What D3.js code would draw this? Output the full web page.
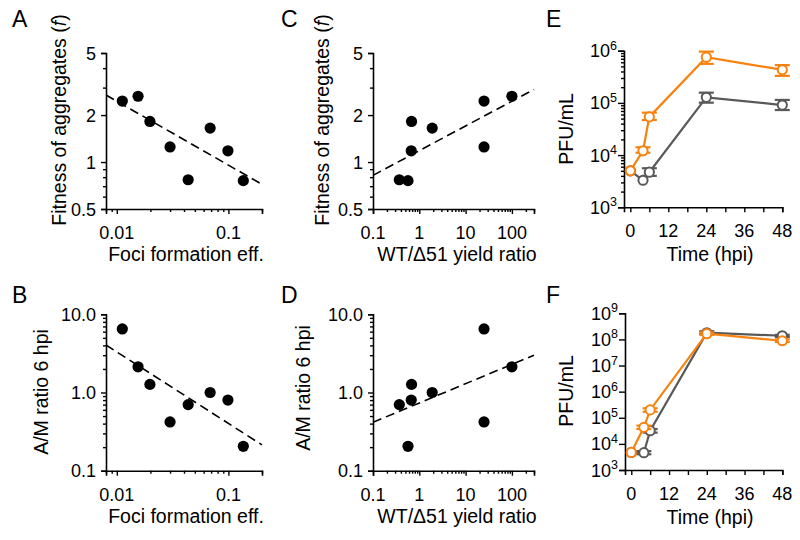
<!DOCTYPE html>
<html><head><meta charset="utf-8">
<script src="https://cdn.jsdelivr.net/npm/d3@7"></script>
<style>
body{margin:0;background:#fff}
svg{display:block}
text{font-family:"Liberation Sans",Arial,Helvetica,sans-serif;fill:#000}
</style>
</head><body>
<svg id="c" width="800" height="540"></svg>
<script>
// ---------- data (per strain, panels A-D) ----------
const fociEff    = [0.0112, 0.0155, 0.0198, 0.030, 0.0436, 0.0686, 0.099, 0.136];
const fitness    = [2.46, 2.64, 1.82, 1.25, 0.77, 1.65, 1.18, 0.76];
const amRatio    = [6.5, 2.13, 1.27, 0.42, 0.70, 1.0, 0.80, 0.205];
const yieldRatio = [25, 100, 0.68, 25, 0.37, 1.9, 0.67, 0.57];

// ---------- data (time courses, panels E-F) ----------
const timeHpi = [0, 4, 6, 24, 48];
const eOrange   = [5.0e3, 1.21e4, 5.4e4, 7.5e5, 4.3e5];
const eOrangeLo = [5.0e3, 1.11e4, 4.7e4, 5.6e5, 3.3e5];
const eOrangeHi = [5.0e3, 1.41e4, 6.5e4, 9.6e5, 5.3e5];
const eGrey     = [5.0e3, 3.3e3, 4.7e3, 1.28e5, 9.1e4];
const eGreyLo   = [5.0e3, 3.3e3, 4.0e3, 1.01e5, 7.3e4];
const eGreyHi   = [5.0e3, 3.3e3, 5.6e3, 1.57e5, 1.14e5];
const fOrange   = [4.7e3, 4.3e4, 2.0e5, 1.66e8, 8.9e7];
const fOrangeLo = [4.7e3, 3.7e4, 1.7e5, 1.5e8, 8.0e7];
const fOrangeHi = [4.7e3, 5.0e4, 2.3e5, 1.85e8, 1.0e8];
const fGrey     = [4.7e3, 4.6e3, 3.2e4, 1.8e8, 1.38e8];
const fGreyLo   = [4.7e3, 4.0e3, 2.7e4, 1.6e8, 1.25e8];
const fGreyHi   = [4.7e3, 5.3e3, 3.7e4, 2.05e8, 1.5e8];

// ---------- tick labels ----------
const fociTicks  = [0.01, 0.1];
const fociLabels = ["0.01", "0.1"];
const yieldTicks = [0.1, 1, 10, 100];
const yieldLabels= ["0.1", "1", "10", "100"];
const fitTicks   = [0.5, 1, 2, 5];
const fitLabels  = ["0.5", "1", "2", "5"];
const amTicks    = [0.1, 1, 10];
const amLabels   = ["0.1", "1.0", "10.0"];
const timeTicks  = [0, 6, 12, 18, 24, 30, 36, 42, 48];
const timeLabels = ["0", "", "12", "", "24", "", "36", "", "48"];
const eExp = [3, 4, 5, 6];
const fExp = [3, 4, 5, 6, 7, 8, 9];

const ORANGE = "#f7820f", GREY = "#595959";
const TICKFS = 18, TITLEFS = 19.5;
const svg = d3.select("#c");

function logTicks(min, max) {
  const out = [];
  for (let e = Math.floor(Math.log10(min)) - 1; e <= Math.ceil(Math.log10(max)); e++) {
    for (let m = 1; m <= 9; m++) {
      const v = +(m * Math.pow(10, e)).toPrecision(6);
      if (v >= min * 0.9999 && v <= max * 1.0001) out.push(v);
    }
  }
  return out;
}
const isIn = (arr, v) => arr.some(a => Math.abs(a - v) / a < 1e-6);

function styleAxis(g) {
  g.selectAll("path.domain").attr("stroke", "#000").attr("stroke-width", 1.6);
  g.selectAll(".tick line").attr("stroke", "#000").attr("stroke-width", 1.4);
  g.selectAll(".tick text").remove();
}

function bottomAxis(x, yPix, ticks, majors, majLen, minLen) {
  const g = svg.append("g").attr("transform", `translate(0,${yPix})`)
    .call(d3.axisBottom(x).tickValues(ticks).tickSizeOuter(0).tickSize(majLen).tickFormat(""));
  g.selectAll(".tick line").attr("y2", d => isIn(majors, d) ? majLen : minLen);
  styleAxis(g);
}
function leftAxis(y, xPix, ticks, majors, majLen, minLen) {
  const g = svg.append("g").attr("transform", `translate(${xPix},0)`)
    .call(d3.axisLeft(y).tickValues(ticks).tickSizeOuter(0).tickSize(majLen).tickFormat(""));
  g.selectAll(".tick line").attr("x2", d => isIn(majors, d) ? -majLen : -minLen);
  styleAxis(g);
}

function letter(t, x, y) {
  svg.append("text").attr("x", x).attr("y", y).attr("font-size", 23).text(t);
}
function yTitle(x, y, build) {
  const t = svg.append("text").attr("transform", `translate(${x},${y}) rotate(-90)`)
    .attr("text-anchor", "middle").attr("font-size", TITLEFS);
  build(t);
}
function xTitle(x, y, s) {
  svg.append("text").attr("x", x).attr("y", y).attr("text-anchor", "middle").attr("font-size", TITLEFS).text(s);
}

// regression in log-log space
function fitLine(xs, ys) {
  const lx = xs.map(Math.log10), ly = ys.map(Math.log10);
  const mx = d3.mean(lx), my = d3.mean(ly);
  const b = d3.sum(lx, (v, i) => (v - mx) * (ly[i] - my)) / d3.sum(lx, v => (v - mx) * (v - mx));
  return v => Math.pow(10, my + b * (Math.log10(v) - mx));
}

function scatterPanel(o) {
  const x = d3.scaleLog().domain(o.xDomain).range([o.left, o.right]);
  const y = d3.scaleLog().domain(o.yDomain).range([o.bottom, o.top]);
  bottomAxis(x, o.bottom, logTicks(o.xDomain[0], o.xDomain[1]), o.xMajor, 5, 3);
  leftAxis(y, o.left, logTicks(o.yDomain[0], o.yDomain[1]), o.yMajor, 5, 3);
  o.xMajor.forEach((v, i) => svg.append("text").attr("x", x(v)).attr("y", o.bottom + 30)
    .attr("text-anchor", "middle").attr("font-size", TICKFS).text(o.xLabels[i]));
  o.yMajor.forEach((v, i) => svg.append("text").attr("x", o.left - 10).attr("y", y(v) + 6.5)
    .attr("text-anchor", "end").attr("font-size", TICKFS).text(o.yLabels[i]));
  const f = fitLine(o.xs, o.ys);
  const clipId = "clip" + o.id;
  svg.append("clipPath").attr("id", clipId).append("rect")
    .attr("x", o.left).attr("y", o.top).attr("width", o.right - o.left + 2).attr("height", o.bottom - o.top);
  svg.append("line").attr("clip-path", `url(#${clipId})`)
    .attr("x1", x(o.xDomain[0])).attr("y1", y(f(o.xDomain[0])))
    .attr("x2", x(o.xDomain[1])).attr("y2", y(f(o.xDomain[1])))
    .attr("stroke", "#000").attr("stroke-width", 1.6).attr("stroke-dasharray", "9,5");
  svg.append("g").selectAll("circle").data(o.xs).join("circle")
    .attr("cx", d => x(d)).attr("cy", (d, i) => y(o.ys[i])).attr("r", 5.6).attr("fill", "#000");
}

// Panel A
scatterPanel({id:"A", left:106, right:262, top:53, bottom:209, xDomain:[0.008,0.2], yDomain:[0.5,5],
  xMajor:fociTicks, xLabels:fociLabels, yMajor:fitTicks, yLabels:fitLabels, xs:fociEff, ys:fitness});
// Panel B
scatterPanel({id:"B", left:106, right:262, top:314.3, bottom:470.7, xDomain:[0.008,0.2], yDomain:[0.1,10],
  xMajor:fociTicks, xLabels:fociLabels, yMajor:amTicks, yLabels:amLabels, xs:fociEff, ys:amRatio});
// Panel C
scatterPanel({id:"C", left:373, right:534, top:53, bottom:209, xDomain:[0.1,300], yDomain:[0.5,5],
  xMajor:yieldTicks, xLabels:yieldLabels, yMajor:fitTicks, yLabels:fitLabels, xs:yieldRatio, ys:fitness});
// Panel D
scatterPanel({id:"D", left:373, right:534, top:314.3, bottom:470.7, xDomain:[0.1,300], yDomain:[0.1,10],
  xMajor:yieldTicks, xLabels:yieldLabels, yMajor:amTicks, yLabels:amLabels, xs:yieldRatio, ys:amRatio});

function timePanel(o) {
  const x = d3.scaleLinear().domain([-2, 48]).range([o.left, o.right]);
  const y = d3.scaleLog().domain(o.yDomain).range([o.bottom, o.top]);
  bottomAxis(x, o.bottom, timeTicks, timeTicks, 5, 5);
  const yt = o.minor ? logTicks(o.yDomain[0], o.yDomain[1]) : o.exps.map(e => Math.pow(10, e));
  leftAxis(y, o.left, yt, o.exps.map(e => Math.pow(10, e)), 6, 3);
  timeTicks.forEach((v, i) => svg.append("text").attr("x", x(v)).attr("y", o.bottom + 30)
    .attr("text-anchor", "middle").attr("font-size", TICKFS).text(timeLabels[i]));
  o.exps.forEach(e => {
    const t = svg.append("text").attr("x", o.left - 7).attr("y", y(Math.pow(10, e)) + 6.5)
      .attr("text-anchor", "end").attr("font-size", TICKFS);
    t.append("tspan").text("10");
    t.append("tspan").attr("font-size", 12.5).attr("dy", -7.5).text(String(e));
  });
  o.series.forEach(s => {
    const g = svg.append("g");
    g.append("path").datum(timeHpi)
      .attr("d", d3.line().x(d => x(d)).y((d, i) => y(s.v[i])))
      .attr("fill", "none").attr("stroke", s.c).attr("stroke-width", 2.2);
    timeHpi.forEach((t, i) => {
      if (s.hi[i] === s.lo[i]) return;
      const cx = x(t);
      g.append("line").attr("x1", cx).attr("x2", cx).attr("y1", y(s.lo[i])).attr("y2", y(s.hi[i]))
        .attr("stroke", s.c).attr("stroke-width", 2);
      [s.lo[i], s.hi[i]].forEach(v => g.append("line").attr("x1", cx - 7.5).attr("x2", cx + 7.5)
        .attr("y1", y(v)).attr("y2", y(v)).attr("stroke", s.c).attr("stroke-width", 2.2));
    });
    g.selectAll("circle").data(timeHpi).join("circle")
      .attr("cx", d => x(d)).attr("cy", (d, i) => y(s.v[i])).attr("r", 4.6)
      .attr("fill", "#fff").attr("stroke", s.c).attr("stroke-width", 2);
  });
}

// Panel E
timePanel({left:624, right:782.3, top:50.7, bottom:207.3, yDomain:[1e3,1e6], exps:eExp, minor:true,
  series:[{v:eGrey, lo:eGreyLo, hi:eGreyHi, c:GREY}, {v:eOrange, lo:eOrangeLo, hi:eOrangeHi, c:ORANGE}]});
// Panel F
timePanel({left:625, right:782.3, top:313.3, bottom:470, yDomain:[1e3,1e9], exps:fExp, minor:false,
  series:[{v:fGrey, lo:fGreyLo, hi:fGreyHi, c:GREY}, {v:fOrange, lo:fOrangeLo, hi:fOrangeHi, c:ORANGE}]});

// Titles
const fitTitle = t => { t.append("tspan").text("Fitness of aggregates ("); t.append("tspan").attr("font-style","italic").text("f"); t.append("tspan").text(")"); };
yTitle(66, 120, fitTitle);
yTitle(329, 120, fitTitle);
yTitle(48, 392, t => t.text("A/M ratio 6 hpi"));
yTitle(310, 388, t => t.text("A/M ratio 6 hpi"));
yTitle(573, 129, t => t.text("PFU/mL"));
yTitle(573, 391, t => t.text("PFU/mL"));
xTitle(186, 261, "Foci formation eff.");
xTitle(186, 523, "Foci formation eff.");
xTitle(457, 261, "WT/\u039451 yield ratio");
xTitle(457, 523, "WT/\u039451 yield ratio");
xTitle(710, 261, "Time (hpi)");
xTitle(710, 524, "Time (hpi)");

letter("A", 12, 27); letter("B", 12, 303);
letter("C", 281, 27); letter("D", 281, 303);
letter("E", 546, 27); letter("F", 546, 303);
</script>
</body></html>
